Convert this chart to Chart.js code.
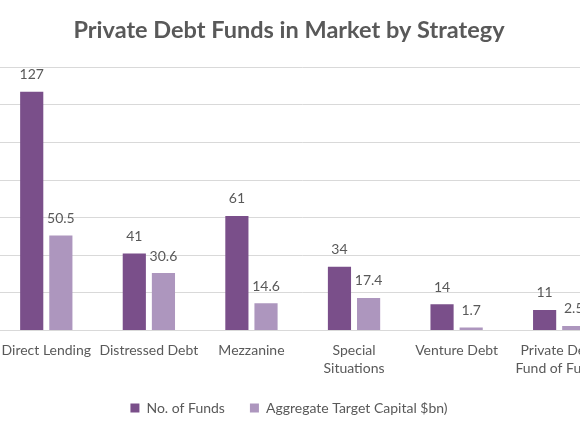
<!DOCTYPE html>
<html>
<head>
<meta charset="utf-8">
<script src="https://cdn.jsdelivr.net/npm/chart.js@4.4.1/dist/chart.umd.min.js"></script>
<style>
  html, body { margin: 0; padding: 0; background: #fff; overflow: hidden; }
  #wrap { position: absolute; left: -36px; top: 0; width: 650px; height: 435px; }
</style>
</head>
<body>
<div id="wrap"><canvas id="c"></canvas></div>
<script>
const categories = ["Direct Lending", "Distressed Debt", "Mezzanine", ["Special", "Situations"], "Venture Debt", ["Private Debt", "Fund of Funds"]];
const fundsCount = [127, 41, 61, 34, 14, 11];
const targetCapital = [50.5, 30.6, 14.6, 17.4, 1.7, 2.5];
const seriesNames = ["No. of Funds", "Aggregate Target Capital $bn)"];
const yTicks = [0, 20, 40, 60, 80, 100, 120, 140];

const textColor = "#595959";
const fontFamily = "Lato, 'Open Sans', sans-serif";

const valueLabels = {
  id: "valueLabels",
  afterDatasetsDraw(chart) {
    const ctx = chart.ctx;
    ctx.save();
    ctx.font = "14px " + fontFamily;
    ctx.fillStyle = textColor;
    ctx.textAlign = "center";
    ctx.textBaseline = "middle";
    chart.data.datasets.forEach((ds, i) => {
      chart.getDatasetMeta(i).data.forEach((bar, j) => {
        ctx.fillText(String(ds.data[j]), bar.x, bar.y - 17);
      });
    });
    ctx.restore();
  }
};

new Chart(document.getElementById("c"), {
  type: "bar",
  data: {
    labels: categories,
    datasets: [
      { label: seriesNames[0], data: fundsCount, backgroundColor: "#7A4F8A",
        categoryPercentage: 0.568, barPercentage: 0.795 },
      { label: seriesNames[1], data: targetCapital, backgroundColor: "#AD96BE",
        categoryPercentage: 0.568, barPercentage: 0.795 }
    ]
  },
  options: {
    responsive: true,
    maintainAspectRatio: false,
    animation: false,
    layout: { padding: { left: 0, right: 0, top: 0, bottom: 10 } },
    plugins: {
      title: {
        display: true,
        text: "Private Debt Funds in Market by Strategy",
        color: textColor,
        font: { family: fontFamily, size: 23.5, weight: "bold" },
        padding: { top: 16.5, bottom: 22.6 }
      },
      legend: {
        position: "bottom",
        labels: {
          color: textColor,
          font: { family: fontFamily, size: 14 },
          boxWidth: 9,
          boxHeight: 9,
          padding: 25
        }
      },
      tooltip: { enabled: false }
    },
    scales: {
      x: {
        grid: { display: false, drawTicks: false },
        border: { display: true, color: "#D9D9D9" },
        afterFit(scale) { scale.height = scale.height - 13; },
        ticks: {
          color: textColor,
          font: { family: fontFamily, size: 14, lineHeight: 1.3 },
          padding: 11,
          maxRotation: 0,
          autoSkip: false
        }
      },
      y: {
        min: 0,
        max: 140,
        afterBuildTicks(scale) { scale.ticks = yTicks.map(v => ({ value: v })); },
        afterFit(scale) { scale.width = 31; },
        grid: { color: "#D9D9D9", drawTicks: false },
        border: { display: false },
        ticks: {
          color: textColor,
          font: { family: fontFamily, size: 14 },
          padding: 8
        }
      }
    }
  },
  plugins: [valueLabels]
});
</script>
</body>
</html>
